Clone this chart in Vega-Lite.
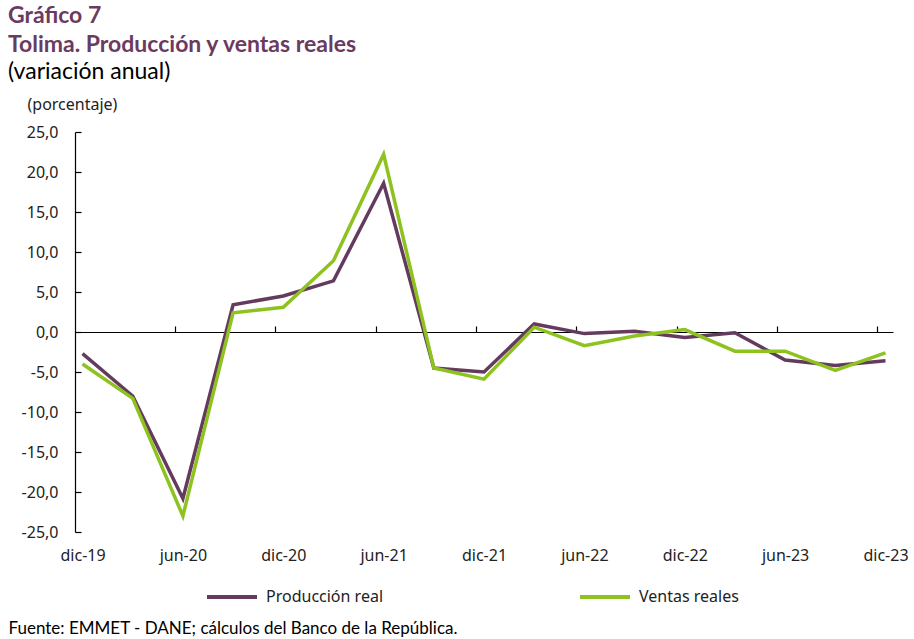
{
  "$schema": "https://vega.github.io/schema/vega-lite/v6.json",
  "width": 818,
  "height": 400,
  "autosize": {"type": "none"},
  "padding": {"left": 75, "top": 132, "right": 21, "bottom": 107},
  "background": "white",
  "config": {"view": {"stroke": null}},
  "title": {
    "text": ["Gráfico 7", "Tolima. Producción y ventas reales"],
    "subtitle": "(variación anual)",
    "anchor": "start",
    "frame": "group",
    "dx": -67,
    "offset": 12,
    "font": "Lato",
    "fontSize": 23,
    "fontWeight": "bold",
    "color": "#6B3A5F",
    "lineHeight": 29,
    "subtitleFont": "Lato",
    "subtitleFontSize": 23,
    "subtitleColor": "#000000",
    "subtitlePadding": 4
  },
  "data": {
    "values": [
      {"fecha": "dic-19", "serie": "Producción real", "valor": -2.7},
      {"fecha": "mar-20", "serie": "Producción real", "valor": -8.0},
      {"fecha": "jun-20", "serie": "Producción real", "valor": -20.8},
      {"fecha": "sep-20", "serie": "Producción real", "valor": 3.4},
      {"fecha": "dic-20", "serie": "Producción real", "valor": 4.5},
      {"fecha": "mar-21", "serie": "Producción real", "valor": 6.4},
      {"fecha": "jun-21", "serie": "Producción real", "valor": 18.6},
      {"fecha": "sep-21", "serie": "Producción real", "valor": -4.5},
      {"fecha": "dic-21", "serie": "Producción real", "valor": -5.0},
      {"fecha": "mar-22", "serie": "Producción real", "valor": 1.0},
      {"fecha": "jun-22", "serie": "Producción real", "valor": -0.2},
      {"fecha": "sep-22", "serie": "Producción real", "valor": 0.1},
      {"fecha": "dic-22", "serie": "Producción real", "valor": -0.7},
      {"fecha": "mar-23", "serie": "Producción real", "valor": -0.1},
      {"fecha": "jun-23", "serie": "Producción real", "valor": -3.5},
      {"fecha": "sep-23", "serie": "Producción real", "valor": -4.2},
      {"fecha": "dic-23", "serie": "Producción real", "valor": -3.6},
      {"fecha": "dic-19", "serie": "Ventas reales", "valor": -4.0},
      {"fecha": "mar-20", "serie": "Ventas reales", "valor": -8.3},
      {"fecha": "jun-20", "serie": "Ventas reales", "valor": -23.0},
      {"fecha": "sep-20", "serie": "Ventas reales", "valor": 2.4},
      {"fecha": "dic-20", "serie": "Ventas reales", "valor": 3.1},
      {"fecha": "mar-21", "serie": "Ventas reales", "valor": 8.9},
      {"fecha": "jun-21", "serie": "Ventas reales", "valor": 22.2},
      {"fecha": "sep-21", "serie": "Ventas reales", "valor": -4.5},
      {"fecha": "dic-21", "serie": "Ventas reales", "valor": -5.9},
      {"fecha": "mar-22", "serie": "Ventas reales", "valor": 0.6},
      {"fecha": "jun-22", "serie": "Ventas reales", "valor": -1.7},
      {"fecha": "sep-22", "serie": "Ventas reales", "valor": -0.5},
      {"fecha": "dic-22", "serie": "Ventas reales", "valor": 0.3},
      {"fecha": "mar-23", "serie": "Ventas reales", "valor": -2.4},
      {"fecha": "jun-23", "serie": "Ventas reales", "valor": -2.4},
      {"fecha": "sep-23", "serie": "Ventas reales", "valor": -4.8},
      {"fecha": "dic-23", "serie": "Ventas reales", "valor": -2.6}
    ]
  },
  "layer": [
    {
      "mark": {"type": "line", "strokeWidth": 3.5},
      "encoding": {
        "x": {
          "field": "fecha",
          "type": "ordinal",
          "sort": null,
          "scale": {"type": "point", "padding": 0.15},
          "axis": {
            "orient": "top",
            "offset": -200,
            "labels": false,
            "title": null,
            "domain": true,
            "domainColor": "#000000",
            "domainWidth": 1.2,
            "ticks": true,
            "tickColor": "#000000",
            "tickWidth": 1.2,
            "tickSize": 6,
            "tickOffset": -8,
            "values": ["jun-20", "dic-20", "jun-21", "dic-21", "jun-22", "dic-22", "jun-23", "dic-23"],
            "grid": false
          }
        },
        "y": {
          "field": "valor",
          "type": "quantitative",
          "scale": {"domain": [-25, 25], "nice": false, "zero": false},
          "axis": {
            "values": [-25, -20, -15, -10, -5, 0, 5, 10, 15, 20, 25],
            "labelExpr": "(datum.value < 0 ? '-' : '') + replace(format(abs(datum.value), '.1f'), '.', ',')",
            "grid": false,
            "domain": true,
            "domainColor": "#000000",
            "domainWidth": 1.2,
            "ticks": true,
            "tickColor": "#000000",
            "tickWidth": 1.2,
            "tickSize": -6,
            "labelPadding": 23,
            "labelFont": "Noto Sans",
            "labelFontSize": 16,
            "labelColor": "#222222",
            "title": "(porcentaje)",
            "titleAngle": 0,
            "titleAlign": "left",
            "titleBaseline": "middle",
            "titleX": -48,
            "titleY": -28,
            "titleFont": "Noto Sans",
            "titleFontSize": 16,
            "titleFontWeight": "normal",
            "titleColor": "#222222"
          }
        },
        "color": {
          "field": "serie",
          "type": "nominal",
          "scale": {"domain": ["Producción real", "Ventas reales"], "range": ["#643B5E", "#8DC21F"]},
          "legend": {
            "orient": "none",
            "legendX": 130,
            "legendY": 438,
            "direction": "horizontal",
            "title": null,
            "symbolType": "stroke",
            "symbolSize": 2500,
            "symbolStrokeWidth": 4,
            "labelFont": "Noto Sans",
            "labelFontSize": 16,
            "labelColor": "#222222",
            "labelOffset": 7,
            "columnPadding": 188
          }
        }
      }
    },
    {
      "mark": {"type": "point", "opacity": 0},
      "encoding": {
        "x": {
          "field": "fecha",
          "type": "ordinal",
          "sort": null,
          "axis": {
            "orient": "bottom",
            "values": ["dic-19", "jun-20", "dic-20", "jun-21", "dic-21", "jun-22", "dic-22", "jun-23", "dic-23"],
            "labelAngle": 0,
            "domain": false,
            "ticks": false,
            "grid": false,
            "labelPadding": 15,
            "labelFont": "Noto Sans",
            "labelFontSize": 16,
            "labelColor": "#222222",
            "title": "Fuente: EMMET - DANE; cálculos del Banco de la República.",
            "titleAnchor": "start",
            "titleAlign": "left",
            "titleBaseline": "middle",
            "titleX": -67,
            "titleY": 96,
            "titleFont": "Lato",
            "titleFontSize": 17,
            "titleFontWeight": "normal",
            "titleColor": "#000000"
          }
        }
      }
    }
  ],
  "resolve": {"axis": {"x": "independent"}}
}
